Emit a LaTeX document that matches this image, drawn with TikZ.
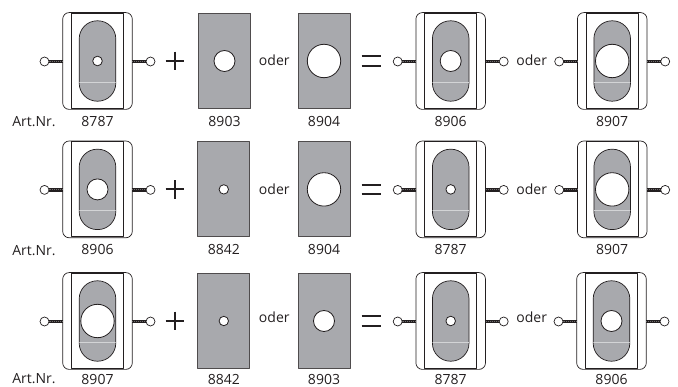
\documentclass[tikz,border=0pt]{standalone}
\usepackage{fontspec}
\setmainfont{Open Sans}
\definecolor{platefill}{RGB}{168,169,173}
\definecolor{lineink}{RGB}{35,31,32}
\tikzset{
	outerframe/.style={draw=lineink, line width=0.7pt, rounded corners=6.5pt},
	innerframe/.style={draw=lineink, line width=0.8pt},
	platebox/.style={draw=lineink!80, fill=platefill, line width=1pt},
	pillbox/.style={draw=lineink, fill=platefill, line width=0.7pt, rounded corners=18pt},
	holecirc/.style={draw=lineink, fill=white, line width=0.8pt},
	wirecord/.style={draw=lineink, line width=3.6pt, line cap=butt},
	wiretwist/.style={draw=lineink!65, line width=1pt, line cap=butt, dash pattern=on 0.7pt off 1.3pt},
	wirering/.style={draw=lineink, fill=white, line width=0.7pt},
	signline/.style={draw=lineink, line width=1.9pt, line cap=butt},
	artlabel/.style={font=\fontsize{14}{16}\selectfont, text=lineink, inner sep=0pt}
}
% unit with cords: [label drop], centre x, centre y, hole radius, number
\newcommand{\unitblock}[5][60.3]{
	\begin{scope}[shift={(#2,#3)}]
		\draw[outerframe] (-34.8,-48.4) rectangle (34.8,48.4);
		\draw[innerframe, fill=white] (-26,-47.5) rectangle (26,47.5);
		\draw[pillbox] (-18.3,-40.2) rectangle (18.3,40.2);
		\draw[platefill!50!white, line width=0.5pt] (-18,21.3) -- (18,21.3);
		\draw[holecirc] (0,0) circle (#4);
		\draw[wirecord] (-34.8,0.5) -- (-49,0.5);
		\draw[wiretwist] (-34.8,0.5) -- (-49,0.5);
		\draw[wirecord] (34.8,0.5) -- (49,0.5);
		\draw[wiretwist] (34.8,0.5) -- (49,0.5);
		\draw[wirering] (-53,0.5) circle (4.5);
		\draw[wirering] (53,0.5) circle (4.5);
	\end{scope}
	\node[artlabel] at (#2,#3+#1) {#5};
}
% plate with hole: [label drop], centre x, centre y, hole radius, number
\newcommand{\plateblock}[5][60.3]{
	\draw[platebox] (#2-26,#3-47.5) rectangle (#2+26,#3+47.5);
	\draw[holecirc] (#2,#3) circle (#4);
	\node[artlabel] at (#2,#3+#1) {#5};
}
% plus and equals, drawn as strokes: centre y
\newcommand{\plussign}[1]{
	\draw[signline] (165.7,#1) -- (184.3,#1);
	\draw[signline] (175,#1-9.3) -- (175,#1+9.3);
}
\newcommand{\equalsign}[1]{
	\draw[signline] (361.7,#1-4.8) -- (381,#1-4.8);
	\draw[signline] (361.7,#1+4.8) -- (381,#1+4.8);
}
\begin{document}
\begin{tikzpicture}[x=1pt, y=-1pt, line cap=round, line join=round]
\useasboundingbox (0,0) rectangle (678,387);
%========================
% Row 1
%========================
\unitblock{97.5}{61}{4.8}{8787}
\plussign{61}
\plateblock{224.5}{61}{10.5}{8903}
\node[artlabel] (oderA) at (274.3,60.3) {oder};
\plateblock{324}{61}{16.7}{8904}
\equalsign{61}
\unitblock{450.7}{61}{10.5}{8906}
\node[artlabel] (oderB) at (531.7,60.3) {oder};
\unitblock{612.2}{61}{16.7}{8907}
\node[artlabel] (artA) at (34,122) {Art.Nr.};
%========================
% Row 2
%========================
\unitblock{97.5}{189.4}{10.5}{8906}
\plussign{189.4}
\plateblock{223.8}{189.4}{4.7}{8842}
\node[artlabel] (oderC) at (274.3,188.8) {oder};
\plateblock{324}{189.4}{16.7}{8904}
\equalsign{189.4}
\unitblock{450.7}{189.4}{4.8}{8787}
\node[artlabel] (oderD) at (531.7,189) {oder};
\unitblock{612.2}{189.4}{16.7}{8907}
\node[artlabel] (artB) at (34,250.5) {Art.Nr.};
%========================
% Row 3
%========================
\unitblock[58.8]{97.5}{321}{16.7}{8907}
\plussign{321}
\plateblock[58.8]{223.8}{321}{4.7}{8842}
\node[artlabel] (oderE) at (274.3,317) {oder};
\plateblock[58.8]{324}{321}{10.5}{8903}
\equalsign{321}
\unitblock[58.8]{450.7}{321}{4.8}{8787}
\node[artlabel] (oderF) at (531.7,317) {oder};
\unitblock[58.8]{611.5}{321}{10.5}{8906}
\node[artlabel] (artC) at (34,379) {Art.Nr.};
\end{tikzpicture}
\end{document}
